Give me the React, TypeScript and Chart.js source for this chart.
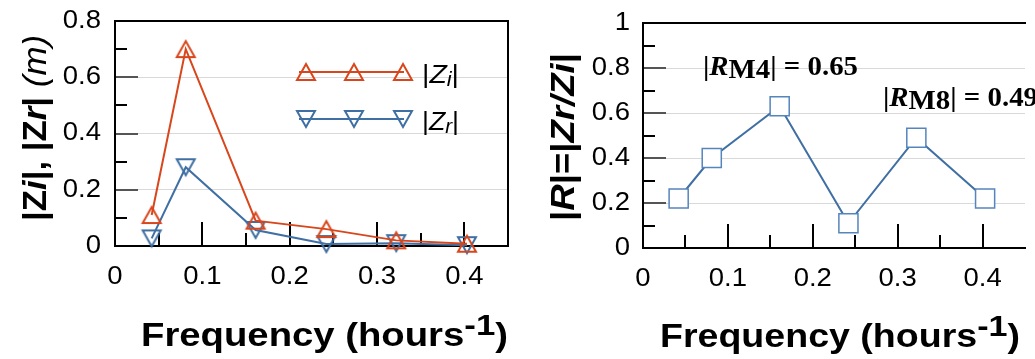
import React, { useEffect, useRef } from 'react';
import { Chart, registerables } from 'chart.js';
Chart.register(...registerables);

// ---------- data ----------
const frequencies = [0.042, 0.081, 0.161, 0.242, 0.322, 0.403];
const ziAmplitude = [0.11, 0.7, 0.09, 0.06, 0.02, 0.008];
const zrAmplitude = [0.027, 0.28, 0.057, 0.007, 0.01, 0.003];
const reflection = [0.22, 0.4, 0.63, 0.11, 0.49, 0.22];

const xTickValues = [0, 0.1, 0.2, 0.3, 0.4];
const xTickLabels = ['0', '0.1', '0.2', '0.3', '0.4'];
const xMajorTicks = [0.1, 0.2, 0.3, 0.4];
const xMinorTicks = [0.05, 0.15, 0.25, 0.35];

const leftYValues = [0, 0.2, 0.4, 0.6, 0.8];
const leftYLabels = ['0', '0.2', '0.4', '0.6', '0.8'];
const leftYMinor = [0.1, 0.3, 0.5, 0.7];

const rightYValues = [0, 0.2, 0.4, 0.6, 0.8, 1];
const rightYLabels = ['0', '0.2', '0.4', '0.6', '0.8', '1'];
const rightYMinor = [0.1, 0.3, 0.5, 0.7, 0.9];

const legendSubscripts = ['i', 'r'];
const annotationModes = ['M4', 'M8'];
const annotationValues = ['0.65', '0.49'];

// ---------- styles ----------
const RED = '#D9461C';
const BLUE = '#3F6FA3';
const SQUARE = '#5585BD';
const SANS = '"Liberation Sans", Arial, sans-serif';
const SERIF = '"Liberation Serif", "Times New Roman", serif';

type Run = { t: string; f: string; dy?: number };

function runsWidth(ctx: CanvasRenderingContext2D, runs: Run[]) {
  let w = 0;
  for (const r of runs) {
    ctx.font = r.f;
    w += ctx.measureText(r.t).width;
  }
  return w;
}

function drawRuns(
  ctx: CanvasRenderingContext2D,
  runs: Run[],
  x: number,
  y: number,
  o: { align?: 'left' | 'center' | 'right'; sx?: number; fit?: number; rotate?: boolean; thick?: number; baseline?: CanvasTextBaseline; color?: string } = {}
) {
  const total = runsWidth(ctx, runs);
  const sx = o.fit ? o.fit / total : o.sx ?? 1;
  ctx.save();
  ctx.translate(x, y);
  if (o.rotate) ctx.rotate(-Math.PI / 2);
  ctx.scale(sx, o.thick ?? 1);
  let cx = o.align === 'center' ? -total / 2 : o.align === 'right' ? -total : 0;
  ctx.textBaseline = o.baseline ?? 'alphabetic';
  ctx.textAlign = 'left';
  ctx.fillStyle = o.color ?? '#000';
  for (const r of runs) {
    ctx.font = r.f;
    ctx.fillText(r.t, cx, r.dy ?? 0);
    cx += ctx.measureText(r.t).width;
  }
  ctx.restore();
  return sx;
}

function makeTriangle(color: string, down: boolean) {
  const c = document.createElement('canvas');
  c.width = 24;
  c.height = 22;
  const g = c.getContext('2d')!;
  const tw = 18, th = 16, cx = 12, cy = 11;
  g.strokeStyle = color;
  g.lineWidth = 2;
  g.beginPath();
  if (!down) {
    g.moveTo(cx, cy - th / 2);
    g.lineTo(cx + tw / 2, cy + th / 2);
    g.lineTo(cx - tw / 2, cy + th / 2);
  } else {
    g.moveTo(cx, cy + th / 2);
    g.lineTo(cx + tw / 2, cy - th / 2);
    g.lineTo(cx - tw / 2, cy - th / 2);
  }
  g.closePath();
  g.stroke();
  return c;
}

function line(ctx: CanvasRenderingContext2D, x1: number, y1: number, x2: number, y2: number) {
  ctx.beginPath();
  ctx.moveTo(x1, y1);
  ctx.lineTo(x2, y2);
  ctx.stroke();
}

const TICK_SX = 1.1;
const TICK_FONT = `25px ${SANS}`;

type AxisCfg = {
  id: string;
  yValues: number[];
  yLabels: string[];
  yMinor: number[];
  rightBorder: boolean;
  labelRight: number;
  extra: (ctx: CanvasRenderingContext2D, chart: any) => void;
};

function axesPlugin(cfg: AxisCfg) {
  return {
    id: cfg.id,
    beforeDatasetsDraw(chart: any) {
      const { ctx, chartArea: a, scales } = chart;
      const xs = scales.x, ys = scales.y;
      ctx.save();
      ctx.lineCap = 'butt';
      ctx.lineWidth = 2;
      ctx.strokeStyle = '#000';
      for (const v of cfg.yMinor) {
        const py = Math.round(ys.getPixelForValue(v));
        line(ctx, a.left, py, a.left + 12, py);
      }
      ctx.strokeStyle = '#555';
      for (const v of cfg.yValues) {
        if (v <= 0 || v >= ys.max) continue;
        const py = Math.round(ys.getPixelForValue(v));
        line(ctx, a.left, py, a.left + 23, py);
      }
      ctx.strokeStyle = '#000';
      for (const v of xMinorTicks) {
        const px = Math.round(xs.getPixelForValue(v));
        line(ctx, px, a.bottom, px, a.bottom - 13);
      }
      for (const v of xMajorTicks) {
        const px = Math.round(xs.getPixelForValue(v));
        line(ctx, px, a.bottom, px, a.bottom - 24);
      }
      // frame
      line(ctx, a.left, a.top - 1, a.left, a.bottom + 1);
      line(ctx, a.left - 1, a.bottom, a.right + 1, a.bottom);
      line(ctx, a.left - 1, a.top, a.right + 1, a.top);
      if (cfg.rightBorder) line(ctx, a.right, a.top - 1, a.right, a.bottom + 1);
      ctx.restore();
    },
    afterDraw(chart: any) {
      const { ctx, chartArea: a, scales } = chart;
      const xs = scales.x, ys = scales.y;
      ctx.save();
      cfg.yValues.forEach((v, i) => {
        drawRuns(ctx, [{ t: cfg.yLabels[i], f: TICK_FONT }], cfg.labelRight, ys.getPixelForValue(v), {
          align: 'right',
          sx: TICK_SX,
          baseline: 'middle',
        });
      });
      xTickValues.forEach((v, i) => {
        drawRuns(ctx, [{ t: xTickLabels[i], f: TICK_FONT }], xs.getPixelForValue(v), a.bottom + 38, {
          align: 'center',
          sx: TICK_SX,
        });
      });
      cfg.extra(ctx, chart);
      ctx.restore();
    },
  };
}

function xTitle(ctx: CanvasRenderingContext2D, x: number, y: number, fit: number) {
  drawRuns(
    ctx,
    [
      { t: 'Frequency (hours', f: `bold 33px ${SANS}` },
      { t: '-1', f: `bold 30px ${SANS}`, dy: -11 },
      { t: ')', f: `bold 33px ${SANS}` },
    ],
    x,
    y,
    { fit }
  );
}

function buildLeft(triUp: HTMLCanvasElement, triDown: HTMLCanvasElement): any {
  return {
    type: 'line',
    data: {
      datasets: [
        {
          label: '|Zi|',
          data: frequencies.map((f, i) => ({ x: f, y: ziAmplitude[i] })),
          borderColor: RED,
          borderWidth: 2,
          pointStyle: triUp,
          pointRadius: 10,
          clip: false,
          tension: 0,
        },
        {
          label: '|Zr|',
          data: frequencies.map((f, i) => ({ x: f, y: zrAmplitude[i] })),
          borderColor: BLUE,
          borderWidth: 2,
          pointStyle: triDown,
          pointRadius: 10,
          clip: false,
          tension: 0,
        },
      ],
    },
    options: {
      responsive: false,
      animation: false,
      events: [],
      layout: { padding: { left: 0, right: 12, top: 21, bottom: 0 } },
      scales: {
        x: {
          type: 'linear',
          min: 0,
          max: 0.45,
          afterFit: (s: any) => { s.height = 113; },
          ticks: { display: false },
          grid: { display: false },
          border: { display: false },
        },
        y: {
          type: 'linear',
          min: 0,
          max: 0.8,
          afterFit: (s: any) => { s.width = 115; },
          ticks: { display: false, stepSize: 0.2 },
          grid: { color: '#D9D9D9', lineWidth: 1, drawTicks: false },
          border: { display: false },
        },
      },
      plugins: { legend: { display: false }, tooltip: { enabled: false } },
    },
    plugins: [
      axesPlugin({
        id: 'leftAxes',
        yValues: leftYValues,
        yLabels: leftYLabels,
        yMinor: leftYMinor,
        rightBorder: true,
        labelRight: 101,
        extra: (ctx) => {
          // legend
          const items = [
            { y: 72, color: RED, marker: triUp, base: 83, sub: legendSubscripts[0] },
            { y: 119, color: BLUE, marker: triDown, base: 130, sub: legendSubscripts[1] },
          ];
          for (const it of items) {
            ctx.strokeStyle = it.color;
            ctx.lineWidth = 2;
            line(ctx, 299, it.y, 404, it.y);
            for (const mx of [306, 354, 403]) ctx.drawImage(it.marker, mx - 12, it.y - 11);
            drawRuns(
              ctx,
              [
                { t: '|', f: `26px ${SANS}` },
                { t: 'Z', f: `italic 26px ${SANS}` },
                { t: it.sub, f: `italic 20px ${SANS}`, dy: 3 },
                { t: '|', f: `26px ${SANS}` },
              ],
              422,
              it.base,
              { fit: 37 }
            );
          }
          // y title
          drawRuns(
            ctx,
            [
              { t: '|Z', f: `bold 30px ${SANS}` },
              { t: 'i', f: `italic bold 30px ${SANS}` },
              { t: '|, |Z', f: `bold 30px ${SANS}` },
              { t: 'r', f: `italic bold 30px ${SANS}` },
              { t: '| ', f: `bold 30px ${SANS}` },
              { t: '(m)', f: `italic 30px ${SANS}` },
            ],
            46,
            221,
            { rotate: true, fit: 186, thick: 1.1 }
          );
          xTitle(ctx, 141, 346, 367);
        },
      }),
    ],
  };
}

function buildRight(): any {
  return {
    type: 'line',
    data: {
      datasets: [
        {
          label: '|R|',
          data: frequencies.map((f, i) => ({ x: f, y: reflection[i] })),
          borderColor: BLUE,
          borderWidth: 2,
          pointStyle: 'rect',
          pointRadius: 13.5,
          pointBorderColor: SQUARE,
          pointBorderWidth: 1.5,
          pointBackgroundColor: '#FFFFFF',
          clip: false,
          tension: 0,
        },
      ],
    },
    options: {
      responsive: false,
      animation: false,
      events: [],
      layout: { padding: { left: 0, right: 5, top: 23, bottom: 0 } },
      scales: {
        x: {
          type: 'linear',
          min: 0,
          max: 0.45,
          afterFit: (s: any) => { s.height = 111; },
          ticks: { display: false },
          grid: { display: false },
          border: { display: false },
        },
        y: {
          type: 'linear',
          min: 0,
          max: 1,
          afterFit: (s: any) => { s.width = 123; },
          ticks: { display: false, stepSize: 0.2 },
          grid: { color: '#D9D9D9', lineWidth: 1, drawTicks: false },
          border: { display: false },
        },
      },
      plugins: { legend: { display: false }, tooltip: { enabled: false } },
    },
    plugins: [
      axesPlugin({
        id: 'rightAxes',
        yValues: rightYValues,
        yLabels: rightYLabels,
        yMinor: rightYMinor,
        rightBorder: false,
        labelRight: 110,
        extra: (ctx) => {
          const ann = (i: number): Run[] => [
            { t: '|', f: `bold 28px ${SERIF}` },
            { t: 'R', f: `italic bold 28px ${SERIF}` },
            { t: annotationModes[i], f: `bold 28px ${SERIF}`, dy: 3 },
            { t: '| = ' + annotationValues[i], f: `bold 28px ${SERIF}` },
          ];
          const sx = drawRuns(ctx, ann(0), 183, 75, { fit: 155 });
          drawRuns(ctx, ann(1), 363, 106, { sx });
          drawRuns(
            ctx,
            [
              { t: '|', f: `bold 30px ${SANS}` },
              { t: 'R', f: `italic bold 30px ${SANS}` },
              { t: '|=|', f: `bold 30px ${SANS}` },
              { t: 'Zr/Zi', f: `italic bold 30px ${SANS}` },
              { t: '|', f: `bold 30px ${SANS}` },
            ],
            54,
            221,
            { rotate: true, fit: 168, thick: 1.1 }
          );
          xTitle(ctx, 140, 347, 360);
        },
      }),
    ],
  };
}

function ChartCanvas({ build, left, width }: { build: () => any; left: number; width: number }) {
  const ref = useRef<HTMLCanvasElement>(null);
  useEffect(() => {
    const chart = new Chart(ref.current!, build());
    return () => chart.destroy();
  }, []);
  return (
    <canvas
      ref={ref}
      width={width}
      height={359}
      style={{ position: 'absolute', left, top: 0, width, height: 359, display: 'block' }}
    />
  );
}

export default function App() {
  const triUp = makeTriangle(RED, false);
  const triDown = makeTriangle(BLUE, true);
  return (
    <div
      style={{
        position: 'absolute',
        left: 0,
        top: 0,
        width: 1035,
        height: 359,
        overflow: 'hidden',
        background: '#fff',
      }}
    >
      <ChartCanvas build={() => buildLeft(triUp, triDown)} left={0} width={520} />
      <ChartCanvas build={buildRight} left={520} width={520} />
    </div>
  );
}
